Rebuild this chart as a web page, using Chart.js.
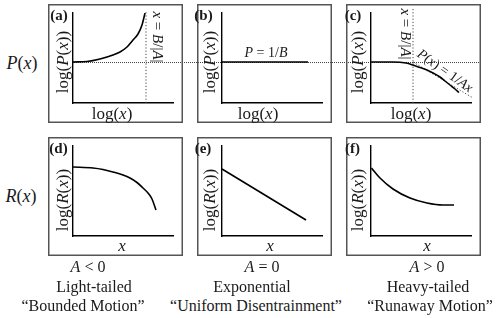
<!DOCTYPE html>
<html>
<head>
<meta charset="utf-8">
<script src="https://cdn.jsdelivr.net/npm/chart.js@4.4.1/dist/chart.umd.min.js"></script>
<style>
  body { margin: 0; background: #fff; }
  #fig { position: relative; width: 500px; height: 318px; overflow: hidden; font-family: "Liberation Serif", serif; color: #1a1a1a; }
  .panel { position: absolute; }
  .panel canvas { position: absolute; left: 0; top: 0; }
  .t { position: absolute; white-space: nowrap; line-height: 1; transform-origin: center; }
  #guide { position: absolute; height: 0; border-top: 1px dotted #444; }
</style>
</head>
<body>
<div id="fig"><div id="guide"></div></div>
<script>
// schematic units: x 0..100 along each axis, y 0..90 up each axis
const X_MAX = 100;
const Y_MAX = 90;
const P_LEVEL = 41;      // log(1/B), shared by the top row

// (a) light-tailed P(x)
const aX = [0, 14, 27, 40, 47, 54, 60, 65, 69, 72];
const aY = [41, 41.5, 44, 48, 51, 56, 63, 69, 78, 90];
const aCutX = [73, 73];
const aCutY = [0, 91];

// (b) exponential P(x) = 1/B
const bX = [0, 86];
const bY = [P_LEVEL, P_LEVEL];

// (c) heavy-tailed P(x)
const cX = [0, 22, 35, 42, 49, 56, 63, 69, 74, 79, 84, 88];
const cY = [41, 41, 40, 38, 35.5, 33, 29.5, 26, 22, 18, 14, 10.5];
const cCutX = [42, 42];
const cCutY = [0, 96];
const cAsymX = [42, 102];
const cAsymY = [41, 5];

// bottom row R(x)
const dX = [0, 20, 30, 40, 50, 57, 64, 70, 75, 79, 83];
const dY = [69, 68, 66.5, 64, 61, 58, 53.5, 48, 43, 37, 26];
const eX = [0, 84];
const eY = [67, 16];
const fX = [0.5, 9, 22, 39, 56, 72, 83];
const fY = [68, 58, 47, 38, 33, 31, 31];

const fig = document.getElementById('fig');
const BOX_W = 135, BOX_H = 119;

const framePlugin = {
  id: 'frame',
  afterDraw(chart) {
    const ctx = chart.ctx;
    ctx.save();
    ctx.strokeStyle = '#555';
    ctx.lineWidth = 1.5;
    ctx.strokeRect(0.75, 0.75, chart.width - 1.5, chart.height - 1.5);
    ctx.restore();
  }
};

function pts(xs, ys) {
  return xs.map((x, i) => ({ x: x, y: ys[i] }));
}

function curve(xs, ys) {
  return { data: pts(xs, ys), borderColor: '#000', borderWidth: 1.6, pointRadius: 0,
           cubicInterpolationMode: 'monotone', fill: false };
}

function dotted(xs, ys) {
  return { data: pts(xs, ys), borderColor: '#444', borderWidth: 1, borderDash: [1.2, 2],
           pointRadius: 0, fill: false, clip: false };
}

function axis() {
  return {
    type: 'linear', min: 0, max: X_MAX,
    grid: { display: false, drawTicks: false },
    ticks: { display: false },
    border: { display: true, color: '#000', width: 1.4 }
  };
}

function panel(left, top, datasets) {
  const wrap = document.createElement('div');
  wrap.className = 'panel';
  wrap.style.left = left + 'px';
  wrap.style.top = top + 'px';
  wrap.style.width = BOX_W + 'px';
  wrap.style.height = BOX_H + 'px';
  const cv = document.createElement('canvas');
  cv.width = BOX_W;
  cv.height = BOX_H;
  wrap.appendChild(cv);
  fig.appendChild(wrap);

  const yAxis = axis();
  yAxis.max = Y_MAX;
  return new Chart(cv.getContext('2d'), {
    type: 'line',
    data: { datasets: datasets },
    options: {
      responsive: false,
      animation: false,
      devicePixelRatio: 1,
      events: [],
      layout: { padding: { left: 25, right: 10, top: 9, bottom: 20 } },
      plugins: { legend: { display: false }, tooltip: { enabled: false } },
      scales: { x: axis(), y: yAxis }
    },
    plugins: [framePlugin]
  });
}

const COLS = [48, 196.5, 346];
const ROWS = [4, 136.5];

const chartA = panel(COLS[0], ROWS[0], [curve(aX, aY), dotted(aCutX, aCutY)]);
const chartB = panel(COLS[1], ROWS[0], [curve(bX, bY)]);
const chartC = panel(COLS[2], ROWS[0], [curve(cX, cY), dotted(cCutX, cCutY), dotted(cAsymX, cAsymY)]);
panel(COLS[0], ROWS[1], [curve(dX, dY)]);
panel(COLS[1], ROWS[1], [curve(eX, eY)]);
panel(COLS[2], ROWS[1], [curve(fX, fY)]);

// dotted guide at log(1/B), running across the whole top row
const guide = document.getElementById('guide');
const gy = ROWS[0] + chartA.scales.y.getPixelForValue(P_LEVEL);
const gx0 = COLS[0] + chartA.scales.x.getPixelForValue(0);
const gx1 = COLS[2] + chartC.scales.x.getPixelForValue(108);
guide.style.top = Math.round(gy) + 'px';
guide.style.left = gx0 + 'px';
guide.style.width = (gx1 - gx0) + 'px';

function txt(html, cx, cy, size, rot, bold) {
  const d = document.createElement('div');
  d.className = 't';
  d.innerHTML = html;
  d.style.left = cx + 'px';
  d.style.top = cy + 'px';
  d.style.fontSize = size + 'px';
  if (bold) d.style.fontWeight = 'bold';
  d.style.transform = `translate(-50%,-50%) rotate(${rot || 0}deg)`;
  fig.appendChild(d);
}

// row labels
txt('<i>P</i>(<i>x</i>)', 22, 63, 18);
txt('<i>R</i>(<i>x</i>)', 21, 196, 18);

// panel letters
txt('(a)', 59, 15, 15, 0, true);
txt('(b)', 203.5, 15, 15, 0, true);
txt('(c)', 353, 15, 15, 0, true);
txt('(d)', 58.5, 148, 15, 0, true);
txt('(e)', 203, 148, 15, 0, true);
txt('(f)', 352.5, 148, 15, 0, true);

// axis titles
const yTitleX = [62, 209, 357];
const xTitleX = [112, 258, 411];
const xVarX = [122, 270, 427];
for (let i = 0; i < 3; i++) {
  txt('log(<i>P</i>(<i>x</i>))', yTitleX[i], 62, 17, -90);
  txt('log(<i>x</i>)', xTitleX[i], 113, 17);
  txt('log(<i>R</i>(<i>x</i>))', yTitleX[i], 200, 17, -90);
  txt('<i>x</i>', xVarX[i], 245, 17);
}

// annotations
const eq = '&nbsp;=&nbsp;';
txt('<i>x</i>' + eq + '<i>B</i>/|<i>A</i>|', 157, 37, 15, 90);
txt('<i>x</i>' + eq + '<i>B</i>/|<i>A</i>|', 405, 34, 15, 90);
txt('<i>P</i>' + eq + '1/<i>B</i>', 266, 53, 14);
txt('<i>P</i>(<i>x</i>)' + eq + '1/<i>Ax</i>', 445, 71, 14, 35);

// captions
txt('<i>A</i>&nbsp;&lt;&nbsp;0', 88, 267, 16);
txt('Light-tailed', 94, 287, 16);
txt('\u201CBounded Motion\u201D', 83, 306, 16);
txt('<i>A</i>' + eq + '0', 262, 267, 16);
txt('Exponential', 252, 287, 16);
txt('\u201CUniform Disentrainment\u201D', 256, 306, 16);
txt('<i>A</i>&nbsp;&gt;&nbsp;0', 427, 267, 16);
txt('Heavy-tailed', 428, 287, 16);
txt('\u201CRunaway Motion\u201D', 430, 306, 16);
</script>
</body>
</html>
